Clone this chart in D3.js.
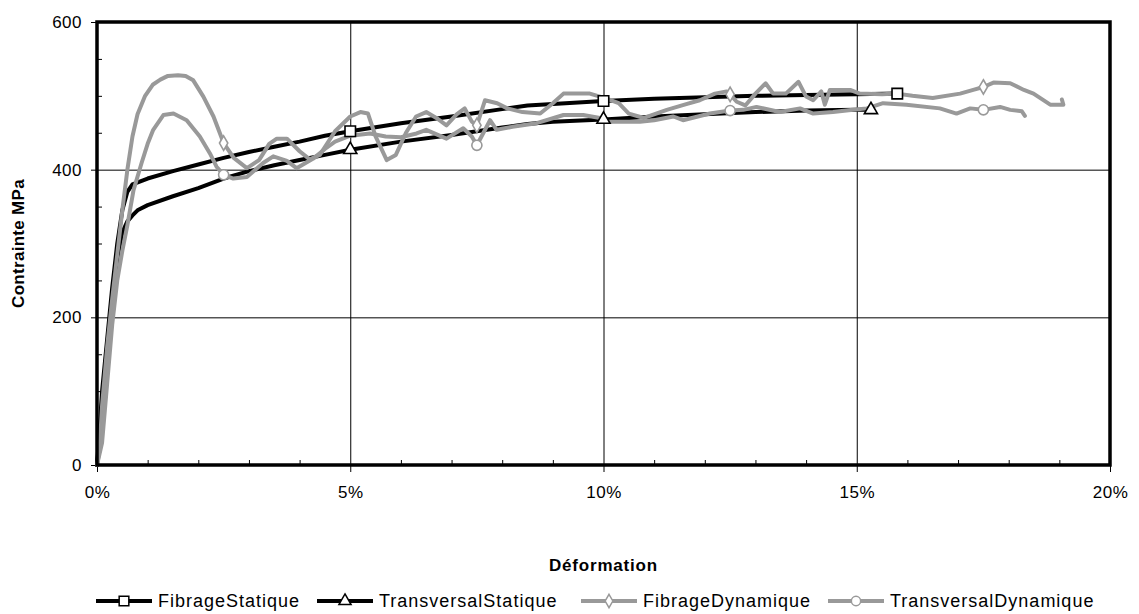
<!DOCTYPE html>
<html>
<head>
<meta charset="utf-8">
<script src="https://cdn.jsdelivr.net/npm/d3@7"></script>
<style>
  body { margin: 0; background: #fff; }
  svg { font-family: "Liberation Sans", Arial, sans-serif; }
</style>
</head>
<body>
<div id="chart"></div>
<script>
// [déformation %, contrainte MPa]
const fibrageStatique = [
  [0,0],[0.05,45],[0.1,100],[0.2,170],[0.3,240],[0.4,300],[0.5,345],[0.6,370],[0.7,380],
  [1,388],[1.5,398],[2,407],[2.5,416],[3,424],[3.5,431],[4,438],[4.5,446],[5,452],
  [6,463],[7,472],[8,482],[8.5,487],[9,489],[10,493],[11,496],[12,498],[13,500],[14,501],
  [15,502],[15.8,503]
];
const transversalStatique = [
  [0,0],[0.05,35],[0.1,85],[0.2,160],[0.3,228],[0.4,280],[0.5,315],[0.6,330],[0.7,338],
  [0.8,345],[1,352],[1.5,364],[2,375],[2.5,388],[3,398],[3.5,406],[4,413],[4.5,420],
  [5,427],[6,438],[7,447],[8,457],[8.5,462],[9,465],[10,468],[11,472],[12,475],[13,478],
  [14,480],[15,481],[15.28,481]
];
const fibrageDynamique = [
  [0,0],[0.05,20],[0.1,80],[0.2,160],[0.3,225],[0.4,285],[0.5,345],[0.6,400],[0.7,445],
  [0.8,475],[0.95,500],[1.1,515],[1.25,522],[1.4,527],[1.6,528],[1.75,527],[1.9,521],
  [2.1,499],[2.3,472],[2.5,436],[2.7,416],[2.96,402],[3.2,413],[3.4,435],[3.55,442],
  [3.75,442],[4,425],[4.2,414],[4.4,420],[4.7,452],[5,472],[5.2,478],[5.35,476],[5.5,445],
  [5.72,413],[5.9,420],[6.1,450],[6.3,472],[6.5,478],[6.7,470],[6.9,460],[7.1,475],
  [7.26,483],[7.4,465],[7.5,460],[7.66,494],[7.9,490],[8.1,483],[8.4,478],[8.75,476],
  [9,490],[9.21,503],[9.5,503],[9.73,503],[10.03,497],[10.3,490],[10.5,476],[10.8,470],
  [11.25,481],[11.6,488],[11.9,494],[12.2,503],[12.43,506],[12.5,502],[12.63,492],
  [12.8,487],[13,503],[13.2,517],[13.35,503],[13.6,503],[13.85,519],[14,499],[14.14,494],
  [14.3,506],[14.37,488],[14.47,508],[14.87,508],[15.06,503],[15.5,502],[15.79,503],
  [16.1,500],[16.5,497],[17.04,503],[17.3,508],[17.5,512],[17.7,518],[18.03,517],
  [18.3,508],[18.49,503],[18.82,488],[19.08,488],[19.05,495]
];
const transversalDynamique = [
  [0,0],[0.1,30],[0.2,110],[0.3,190],[0.4,250],[0.5,290],[0.6,325],[0.72,372],[0.88,409],
  [1,435],[1.11,454],[1.31,474],[1.51,476],[1.77,467],[2.03,445],[2.23,422],[2.36,404],
  [2.5,393],[2.69,388],[2.96,390],[3.28,409],[3.48,418],[3.75,412],[3.94,402],[4.27,415],
  [4.5,428],[4.7,438],[5,446],[5.39,449],[5.7,445],[6,444],[6.31,449],[6.5,454],[6.9,442],
  [7.23,456],[7.4,445],[7.5,433],[7.76,467],[7.89,454],[8.2,458],[8.68,463],[9.21,474],
  [9.6,474],[9.93,470],[10.06,465],[10.39,465],[10.72,465],[11,467],[11.38,472],
  [11.57,467],[12.1,476],[12.5,480],[12.76,481],[13.02,485],[13.48,478],[13.88,483],
  [14.14,476],[14.53,478],[14.93,481],[15.2,483],[15.52,490],[15.98,488],[16.64,483],
  [16.97,476],[17.24,483],[17.5,481],[17.83,485],[18.03,481],[18.26,479],[18.32,473]
];

const seriesNames = ["FibrageStatique", "TransversalStatique", "FibrageDynamique", "TransversalDynamique"];
const seriesData = [fibrageStatique, transversalStatique, fibrageDynamique, transversalDynamique];
// x positions (%) where the marker symbols sit
const markerAt = [[5, 10, 15.8], [5, 10, 15.28], [2.5, 7.5, 12.5, 17.5], [2.5, 7.5, 12.5, 17.5]];

const xTicks = [0, 5, 10, 15, 20];
const yTicks = [0, 200, 400, 600];

const width = 1139, height = 614;
const colors = ["#000000", "#000000", "#999999", "#999999"];
const symbols = [d3.symbolSquare, d3.symbolTriangle, d3.symbolDiamond, d3.symbolCircle];
const symbolSizes = [110, 75, 60, 80];
const legendX = [96, 317, 581, 828];

const svg = d3.select("#chart").append("svg")
  .attr("width", width)
  .attr("height", height);

const x = d3.scaleLinear().domain([0, 20]).range([97, 1110]);
const y = d3.scaleLinear().domain([0, 600]).range([465, 22]);

// gridlines
svg.append("g")
  .attr("transform", `translate(0, ${y(0)})`)
  .call(d3.axisBottom(x).tickValues(xTicks.slice(1, -1)).tickSize(-(y(0) - y(600))).tickFormat(""))
  .call(g => g.select(".domain").remove())
  .selectAll("line").attr("stroke", "#000").attr("stroke-width", 1);
svg.append("g")
  .attr("transform", `translate(${x(0)}, 0)`)
  .call(d3.axisLeft(y).tickValues(yTicks.slice(1, -1)).tickSize(-(x(20) - x(0))).tickFormat(""))
  .call(g => g.select(".domain").remove())
  .selectAll("line").attr("stroke", "#000").attr("stroke-width", 1);

// minor ticks (inside)
svg.append("g")
  .attr("transform", `translate(0, ${y(0)})`)
  .call(d3.axisBottom(x).tickValues(d3.range(1, 20).filter(d => d % 5 !== 0)).tickSize(-5).tickFormat(""))
  .call(g => g.select(".domain").remove())
  .selectAll("line").attr("stroke", "#000").attr("stroke-width", 1);
svg.append("g")
  .attr("transform", `translate(${x(0)}, 0)`)
  .call(d3.axisLeft(y).tickValues(d3.range(50, 600, 50).filter(d => d % 200 !== 0)).tickSize(-5).tickFormat(""))
  .call(g => g.select(".domain").remove())
  .selectAll("line").attr("stroke", "#000").attr("stroke-width", 1);

// major axes
const xAxis = svg.append("g")
  .attr("transform", `translate(0, ${y(0)})`)
  .call(d3.axisBottom(x).tickValues(xTicks).tickSize(7).tickPadding(14).tickFormat(d => d + "%"));
const yAxis = svg.append("g")
  .attr("transform", `translate(${x(0)}, 0)`)
  .call(d3.axisLeft(y).tickValues(yTicks).tickSize(6).tickPadding(9));
[xAxis, yAxis].forEach(a => {
  a.select(".domain").remove();
  a.selectAll("line").attr("stroke", "#000").attr("stroke-width", 1);
  a.selectAll("text").attr("fill", "#000").style("font-size", "17px")
    .style("letter-spacing", "0.5px")
    .style("font-family", "'Liberation Sans', Arial, sans-serif");
});

// lines
const line = d3.line().x(d => x(d[0])).y(d => y(d[1]));
const plotted = svg.append("g");
seriesData.forEach((data, i) => {
  plotted.append("path")
    .datum(data)
    .attr("d", line)
    .attr("fill", "none")
    .attr("stroke", colors[i])
    .attr("stroke-width", 4)
    .attr("stroke-linejoin", "round")
    .attr("stroke-linecap", "round");
});

// markers
seriesData.forEach((data, i) => {
  const pts = markerAt[i].map(m => data.find(d => d[0] === m));
  plotted.selectAll(`.mk${i}`)
    .data(pts)
    .join("path")
      .attr("class", `mk${i}`)
      .attr("transform", d => `translate(${x(d[0])}, ${y(d[1])})`)
      .attr("d", d3.symbol(symbols[i], symbolSizes[i]))
      .attr("fill", "#fff")
      .attr("stroke", colors[i])
      .attr("stroke-width", 1.6);
});

// plot frame
svg.append("rect")
  .attr("x", x(0)).attr("y", y(600))
  .attr("width", x(20) - x(0)).attr("height", y(0) - y(600))
  .attr("fill", "none")
  .attr("stroke", "#000")
  .attr("stroke-width", 3.5);

// axis titles
svg.append("text")
  .attr("x", (x(0) + x(20)) / 2)
  .attr("y", 571)
  .attr("text-anchor", "middle")
  .style("font-size", "17px")
  .style("font-weight", "bold")
  .style("letter-spacing", "0.8px")
  .text("Déformation");
svg.append("text")
  .attr("transform", `translate(24, ${(y(0) + y(600)) / 2}) rotate(-90)`)
  .attr("text-anchor", "middle")
  .style("font-size", "17px")
  .style("font-weight", "bold")
  .style("letter-spacing", "0.3px")
  .text("Contrainte MPa");

// legend
const legend = svg.append("g").attr("transform", "translate(0, 601)");
seriesNames.forEach((name, i) => {
  const item = legend.append("g").attr("transform", `translate(${legendX[i]}, 0)`);
  item.append("line")
    .attr("x1", 0).attr("x2", 56)
    .attr("stroke", colors[i])
    .attr("stroke-width", 4);
  item.append("path")
    .attr("transform", "translate(28, 0)")
    .attr("d", d3.symbol(symbols[i], symbolSizes[i] * 0.85))
    .attr("fill", "#fff")
    .attr("stroke", colors[i])
    .attr("stroke-width", 1.5);
  item.append("text")
    .attr("x", 62)
    .attr("dy", "0.35em")
    .style("font-size", "18px")
    .style("letter-spacing", "1px")
    .text(name);
});
</script>
</body>
</html>
